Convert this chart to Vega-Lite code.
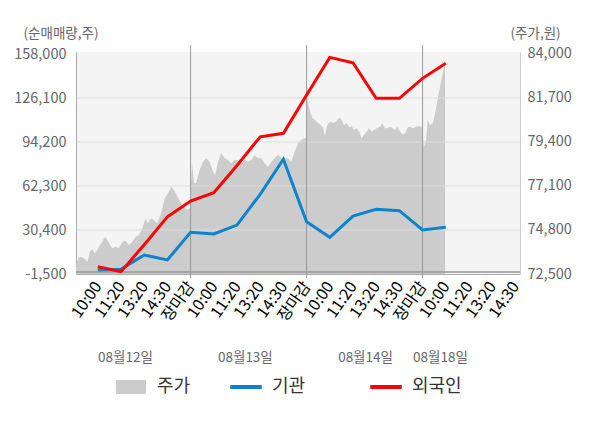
{
  "$schema": "https://vega.github.io/schema/vega-lite/v6.json",
  "width": 444,
  "height": 222,
  "autosize": {"type": "none"},
  "padding": {"left": 76, "top": 52, "right": 80, "bottom": 154},
  "config": {
    "font": "Noto Sans CJK KR",
    "view": {"fill": "#f4f4f4", "stroke": null}
  },
  "datasets": {
    "price": [
      {"u": 0.06, "p": 72930}, {"u": 0.15, "p": 73320}, {"u": 0.26, "p": 73400}, {"u": 0.40, "p": 73320},
      {"u": 0.55, "p": 73140}, {"u": 0.66, "p": 73670}, {"u": 0.76, "p": 73790}, {"u": 0.87, "p": 73580},
      {"u": 0.98, "p": 73750}, {"u": 1.09, "p": 74020}, {"u": 1.19, "p": 74190}, {"u": 1.31, "p": 74450},
      {"u": 1.41, "p": 74280}, {"u": 1.53, "p": 74020}, {"u": 1.62, "p": 73840}, {"u": 1.77, "p": 73930},
      {"u": 1.91, "p": 73840}, {"u": 2.06, "p": 74190}, {"u": 2.20, "p": 74240}, {"u": 2.34, "p": 74020},
      {"u": 2.49, "p": 74190}, {"u": 2.63, "p": 74450}, {"u": 2.78, "p": 74540}, {"u": 2.92, "p": 74890},
      {"u": 3.06, "p": 75410}, {"u": 3.16, "p": 75150}, {"u": 3.28, "p": 75410}, {"u": 3.42, "p": 75320},
      {"u": 3.56, "p": 75150}, {"u": 3.68, "p": 75500}, {"u": 3.78, "p": 75930}, {"u": 3.88, "p": 76460},
      {"u": 4.03, "p": 76720}, {"u": 4.17, "p": 77060}, {"u": 4.28, "p": 76890}, {"u": 4.40, "p": 76630},
      {"u": 4.54, "p": 76280}, {"u": 4.72, "p": 76020}, {"u": 4.86, "p": 75850}, {"u": 4.97, "p": 75930},
      {"u": 5.06, "p": 78290}, {"u": 5.15, "p": 77240}, {"u": 5.23, "p": 77260}, {"u": 5.39, "p": 77940},
      {"u": 5.53, "p": 78370}, {"u": 5.68, "p": 78550}, {"u": 5.82, "p": 78370}, {"u": 5.97, "p": 77850},
      {"u": 6.06, "p": 77670}, {"u": 6.18, "p": 78370}, {"u": 6.32, "p": 78810}, {"u": 6.47, "p": 78550},
      {"u": 6.61, "p": 78460}, {"u": 6.75, "p": 78290}, {"u": 6.90, "p": 78460}, {"u": 7.04, "p": 78460},
      {"u": 7.19, "p": 78290}, {"u": 7.33, "p": 78460}, {"u": 7.47, "p": 78370}, {"u": 7.62, "p": 78460},
      {"u": 7.76, "p": 78720}, {"u": 7.91, "p": 78550}, {"u": 8.05, "p": 78550}, {"u": 8.19, "p": 78290},
      {"u": 8.34, "p": 78110}, {"u": 8.48, "p": 78370}, {"u": 8.62, "p": 78550}, {"u": 8.77, "p": 78720},
      {"u": 8.91, "p": 78550}, {"u": 9.06, "p": 78550}, {"u": 9.20, "p": 78550}, {"u": 9.34, "p": 78370},
      {"u": 9.49, "p": 78890}, {"u": 9.63, "p": 79330}, {"u": 9.77, "p": 79500}, {"u": 9.89, "p": 79590},
      {"u": 9.98, "p": 79590},
      {"u": 10.02, "p": 81680}, {"u": 10.07, "p": 81420}, {"u": 10.15, "p": 80980}, {"u": 10.26, "p": 80640},
      {"u": 10.36, "p": 80550}, {"u": 10.50, "p": 80380}, {"u": 10.61, "p": 80290}, {"u": 10.72, "p": 80120},
      {"u": 10.79, "p": 79680}, {"u": 10.87, "p": 80200}, {"u": 10.94, "p": 80380}, {"u": 11.04, "p": 80460},
      {"u": 11.15, "p": 80380}, {"u": 11.27, "p": 80460}, {"u": 11.41, "p": 80690}, {"u": 11.51, "p": 80550},
      {"u": 11.61, "p": 80290}, {"u": 11.73, "p": 80380}, {"u": 11.84, "p": 80170}, {"u": 11.94, "p": 80240},
      {"u": 12.04, "p": 80030}, {"u": 12.16, "p": 80120}, {"u": 12.27, "p": 79940}, {"u": 12.37, "p": 79590},
      {"u": 12.47, "p": 79770}, {"u": 12.59, "p": 79940}, {"u": 12.69, "p": 80120}, {"u": 12.81, "p": 79940},
      {"u": 12.91, "p": 80030}, {"u": 13.02, "p": 80120}, {"u": 13.16, "p": 80200}, {"u": 13.28, "p": 80380},
      {"u": 13.38, "p": 80120}, {"u": 13.48, "p": 80120}, {"u": 13.59, "p": 80200}, {"u": 13.71, "p": 80120},
      {"u": 13.81, "p": 80030}, {"u": 13.91, "p": 80200}, {"u": 14.03, "p": 79940}, {"u": 14.17, "p": 79770},
      {"u": 14.28, "p": 79940}, {"u": 14.38, "p": 80200}, {"u": 14.49, "p": 80170}, {"u": 14.60, "p": 80120},
      {"u": 14.72, "p": 80200}, {"u": 14.81, "p": 80240}, {"u": 14.96, "p": 80200},
      {"u": 15.06, "p": 79150}, {"u": 15.15, "p": 79500}, {"u": 15.22, "p": 80550}, {"u": 15.32, "p": 80290},
      {"u": 15.44, "p": 80380}, {"u": 15.53, "p": 80810}, {"u": 15.63, "p": 81510}, {"u": 15.75, "p": 82290},
      {"u": 15.87, "p": 82990}, {"u": 15.94, "p": 83340}, {"u": 15.97, "p": 83530}
    ],
    "flow": [
      {"u": 1, "s": "기관", "v": 1400}, {"u": 2, "s": "기관", "v": 1900}, {"u": 3, "s": "기관", "v": 12300},
      {"u": 4, "s": "기관", "v": 8700}, {"u": 5, "s": "기관", "v": 28700}, {"u": 6, "s": "기관", "v": 27500},
      {"u": 7, "s": "기관", "v": 34000}, {"u": 8, "s": "기관", "v": 56300}, {"u": 9, "s": "기관", "v": 81700},
      {"u": 10, "s": "기관", "v": 36400}, {"u": 11, "s": "기관", "v": 25100}, {"u": 12, "s": "기관", "v": 40500},
      {"u": 13, "s": "기관", "v": 45400}, {"u": 14, "s": "기관", "v": 44400}, {"u": 15, "s": "기관", "v": 30400},
      {"u": 16, "s": "기관", "v": 32400},
      {"u": 1, "s": "외국인", "v": 3800}, {"u": 2, "s": "외국인", "v": 200}, {"u": 3, "s": "외국인", "v": 19700},
      {"u": 4, "s": "외국인", "v": 40000}, {"u": 5, "s": "외국인", "v": 51400}, {"u": 6, "s": "외국인", "v": 57400},
      {"u": 7, "s": "외국인", "v": 77200}, {"u": 8, "s": "외국인", "v": 98000}, {"u": 9, "s": "외국인", "v": 100500},
      {"u": 10, "s": "외국인", "v": 128300}, {"u": 11, "s": "외국인", "v": 155600}, {"u": 12, "s": "외국인", "v": 151700},
      {"u": 13, "s": "외국인", "v": 125900}, {"u": 14, "s": "외국인", "v": 125900}, {"u": 15, "s": "외국인", "v": 140400},
      {"u": 16, "s": "외국인", "v": 151300}
    ]
  },
  "layer": [
    {
      "layer": [
        {
          "data": {"name": "price"},
          "mark": {"type": "area", "interpolate": "linear"},
          "encoding": {
            "x": {
              "field": "u", "type": "quantitative",
              "scale": {"domain": [0.06, 19.2], "nice": false, "zero": false},
              "axis": {
                "title": null, "values": [1, 2, 3, 4, 5, 6, 7, 8, 9, 10, 11, 12, 13, 14, 15, 16, 17, 18, 19],
                "labelExpr": "['장마감','10:00','11:20','13:20','14:30'][datum.value % 5]",
                "labelAngle": -55, "labelFontSize": 16, "labelPadding": 9,
                "ticks": false, "grid": false, "domain": true, "domainColor": "#aaaaaa",
                "labelOverlap": false, "labelFlush": false, "labelBound": false,
                "encode": {"labels": {"update": {"fill": {"signal": "datum.value % 5 === 0 ? '#ff0000' : (datum.value === 16 ? '#222222' : '#666666')"}}}}
              }
            },
            "y": {
              "field": "p", "type": "quantitative",
              "scale": {"domain": [72500, 84104], "nice": false, "zero": false},
              "axis": {
                "orient": "right", "values": [72500, 74800, 77100, 79400, 81700, 84000],
                "labelExpr": "format(datum.value, ',')",
                "labelFontSize": 14.5, "labelColor": "#666666", "labelPadding": 7,
                "ticks": false, "grid": false, "domain": true, "domainColor": "#cccccc",
                "title": "(주가,원)", "titleAngle": 0, "titleX": -10, "titleY": -19,
                "titleAlign": "left", "titleBaseline": "middle", "titleFontSize": 13.5,
                "titleFontWeight": "normal", "titleColor": "#666666"
              }
            },
            "y2": {"datum": 72500},
            "fill": {
              "datum": "주가", "type": "nominal",
              "scale": {"domain": ["주가"], "range": ["#cccccc"]},
              "legend": {
                "title": null, "orient": "none", "legendX": 39, "legendY": 319,
                "symbolSize": 900, "labelFontSize": 18, "labelColor": "#333333", "labelOffset": 10,
                "encode": {"symbols": {"update": {
                  "shape": {"value": "M-1,-0.47H1V0.47H-1Z"},
                  "fill": {"value": "#cccccc"},
                  "stroke": {"value": "transparent"},
                  "opacity": {"value": 1}
                }}}
              }
            }
          }
        },
        {
          "data": {"values": [{"g": 74800}, {"g": 77100}, {"g": 79400}, {"g": 81700}]},
          "mark": {"type": "rule", "color": "#dddddd", "strokeWidth": 1},
          "encoding": {
            "y": {
              "field": "g", "type": "quantitative",
              "scale": {"domain": [72500, 84104], "nice": false, "zero": false},
              "axis": {
                "orient": "right", "values": [72500, 74800, 77100, 79400, 81700, 84000],
                "labelExpr": "format(datum.value, ',')",
                "labelFontSize": 14.5, "labelColor": "#666666", "labelPadding": 7,
                "ticks": false, "grid": false, "domain": true, "domainColor": "#cccccc",
                "title": "(주가,원)", "titleAngle": 0, "titleX": -10, "titleY": -19,
                "titleAlign": "left", "titleBaseline": "middle", "titleFontSize": 13.5,
                "titleFontWeight": "normal", "titleColor": "#666666"
              }
            }
          }
        }
      ]
    },
    {
      "layer": [
        {
          "data": {"values": [{"u": 5}, {"u": 10}, {"u": 15}]},
          "mark": {"type": "rule", "color": "#999999", "strokeWidth": 1},
          "encoding": {
            "x": {
              "field": "u", "type": "quantitative",
              "scale": {"domain": [0.06, 19.2], "nice": false, "zero": false},
              "axis": {
                "title": null, "orient": "bottom", "values": [2.17, 7.34, 12.52, 15.75],
                "labelExpr": "datum.value < 5 ? '08월12일' : (datum.value < 10 ? '08월13일' : (datum.value < 15 ? '08월14일' : '08월18일'))",
                "offset": 72, "labelAngle": 0, "labelFontSize": 13.5, "labelColor": "#666666", "labelPadding": 4,
                "ticks": false, "domain": false, "grid": false,
                "labelOverlap": false, "labelFlush": false, "labelBound": false
              }
            },
            "y": {
              "datum": 164500, "type": "quantitative",
              "scale": {"domain": [-1500, 159500], "nice": false, "zero": false},
              "axis": {
                "orient": "left", "values": [-1500, 30400, 62300, 94200, 126100, 158000],
                "labelExpr": "replace(format(datum.value, ','), '\u2212', '-')",
                "labelFontSize": 14.5, "labelColor": "#666666", "labelPadding": 10,
                "ticks": false, "grid": false, "domain": true, "domainColor": "#aaaaaa",
                "title": "(순매매량,주)", "titleAngle": 0, "titleX": -53, "titleY": -19,
                "titleAlign": "left", "titleBaseline": "middle", "titleFontSize": 13.5,
                "titleFontWeight": "normal", "titleColor": "#666666"
              }
            },
            "y2": {"datum": -4400}
          }
        },
        {
          "data": {"values": [{"z": 0}]},
          "mark": {"type": "rule", "color": "#999999", "strokeWidth": 1.5},
          "encoding": {
            "y": {
              "field": "z", "type": "quantitative",
              "scale": {"domain": [-1500, 159500], "nice": false, "zero": false},
              "axis": {
                "orient": "left", "values": [-1500, 30400, 62300, 94200, 126100, 158000],
                "labelExpr": "replace(format(datum.value, ','), '\u2212', '-')",
                "labelFontSize": 14.5, "labelColor": "#666666", "labelPadding": 10,
                "ticks": false, "grid": false, "domain": true, "domainColor": "#aaaaaa",
                "title": "(순매매량,주)", "titleAngle": 0, "titleX": -53, "titleY": -19,
                "titleAlign": "left", "titleBaseline": "middle", "titleFontSize": 13.5,
                "titleFontWeight": "normal", "titleColor": "#666666"
              }
            }
          }
        },
        {
          "data": {"name": "flow"},
          "mark": {"type": "line", "strokeWidth": 3},
          "encoding": {
            "x": {
              "field": "u", "type": "quantitative",
              "scale": {"domain": [0.06, 19.2], "nice": false, "zero": false},
              "axis": {
                "title": null, "orient": "bottom", "values": [2.17, 7.34, 12.52, 15.75],
                "labelExpr": "datum.value < 5 ? '08월12일' : (datum.value < 10 ? '08월13일' : (datum.value < 15 ? '08월14일' : '08월18일'))",
                "offset": 72, "labelAngle": 0, "labelFontSize": 13.5, "labelColor": "#666666", "labelPadding": 4,
                "ticks": false, "domain": false, "grid": false,
                "labelOverlap": false, "labelFlush": false, "labelBound": false
              }
            },
            "y": {
              "field": "v", "type": "quantitative",
              "scale": {"domain": [-1500, 159500], "nice": false, "zero": false},
              "axis": {
                "orient": "left", "values": [-1500, 30400, 62300, 94200, 126100, 158000],
                "labelExpr": "replace(format(datum.value, ','), '\u2212', '-')",
                "labelFontSize": 14.5, "labelColor": "#666666", "labelPadding": 10,
                "ticks": false, "grid": false, "domain": true, "domainColor": "#aaaaaa",
                "title": "(순매매량,주)", "titleAngle": 0, "titleX": -53, "titleY": -19,
                "titleAlign": "left", "titleBaseline": "middle", "titleFontSize": 13.5,
                "titleFontWeight": "normal", "titleColor": "#666666"
              }
            },
            "stroke": {
              "field": "s", "type": "nominal",
              "scale": {"domain": ["기관", "외국인"], "range": ["#0b84cc", "#ff0000"]},
              "legend": {
                "title": null, "orient": "none", "legendX": 154, "legendY": 319,
                "direction": "horizontal", "columns": 2, "columnPadding": 62,
                "symbolSize": 900, "labelFontSize": 18, "labelColor": "#333333", "labelOffset": 10,
                "encode": {"symbols": {"update": {
                  "shape": {"value": "M-1,-0.09H1V0.09H-1Z"},
                  "fill": {"signal": "scale('stroke', datum.value)"},
                  "stroke": {"value": "transparent"},
                  "opacity": {"value": 1}
                }}}
              }
            }
          }
        }
      ]
    }
  ],
  "resolve": {"scale": {"y": "independent"}, "axis": {"x": "independent", "y": "independent"}}
}
